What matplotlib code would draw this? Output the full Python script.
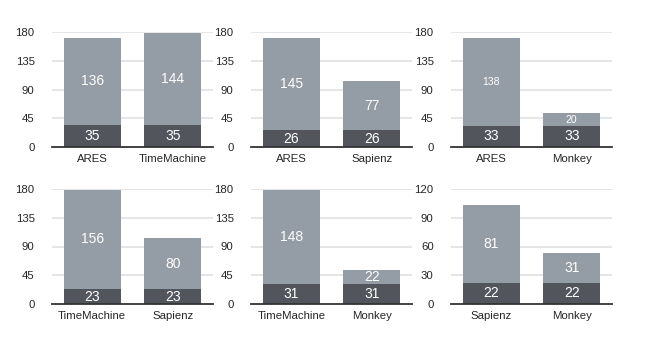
import matplotlib
matplotlib.use("Agg")
import matplotlib.pyplot as plt

plt.rcParams['font.family'] = ['Liberation Sans', 'DejaVu Sans']

# Data: each panel = (categories, bottom values, top values, y ticks)
panel_categories = [
    ["ARES", "TimeMachine"],
    ["ARES", "Sapienz"],
    ["ARES", "Monkey"],
    ["TimeMachine", "Sapienz"],
    ["TimeMachine", "Monkey"],
    ["Sapienz", "Monkey"],
]
bottom_values = [
    [35, 35],
    [26, 26],
    [33, 33],
    [23, 23],
    [31, 31],
    [22, 22],
]
top_values = [
    [136, 144],
    [145, 77],
    [138, 20],
    [156, 80],
    [148, 22],
    [81, 31],
]
y_ticks = [
    [0, 45, 90, 135, 180],
    [0, 45, 90, 135, 180],
    [0, 45, 90, 135, 180],
    [0, 45, 90, 135, 180],
    [0, 45, 90, 135, 180],
    [0, 30, 60, 90, 120],
]
# labels drawn small in the original
small_labels = {(2, 0), (2, 1)}

TOP_COLOR = "#949ca5"
BOTTOM_COLOR = "#52565c"
GRID_COLOR = "#e2e2e2"

W, H = 665, 362
fig = plt.figure(figsize=(W / 100, H / 100), dpi=100)

col_x = [52, 251, 451]
row_y = [(32, 147), (189, 304)]
ax_w = 161

for i in range(6):
    r, c = divmod(i, 3)
    top_px, bot_px = row_y[r]
    ax = fig.add_axes([col_x[c] / W, 1 - bot_px / H, ax_w / W, (bot_px - top_px) / H])
    cats = panel_categories[i]
    x = list(range(len(cats)))
    b = bottom_values[i]
    t = top_values[i]
    ax.bar(x, b, width=0.71, color=BOTTOM_COLOR, zorder=3)
    ax.bar(x, t, bottom=b, width=0.71, color=TOP_COLOR, zorder=3)
    ticks = y_ticks[i]
    ax.set_ylim(0, ticks[-1])
    ax.set_xlim(-0.5, len(cats) - 0.5)
    ax.set_yticks(ticks)
    ax.set_yticklabels([str(v) for v in ticks], fontsize=8.2, color="#262626")
    ax.set_xticks(x)
    ax.set_xticklabels(cats, fontsize=8.2, color="#262626")
    ax.tick_params(axis="y", length=0, pad=12.5)
    ax.tick_params(axis="x", length=0, pad=5)
    for v in ticks[1:]:
        ax.axhline(v, color=GRID_COLOR, lw=1.2, zorder=1)
    for s in ["top", "right", "left"]:
        ax.spines[s].set_visible(False)
    ax.spines["bottom"].set_color("#333333")
    ax.spines["bottom"].set_linewidth(1.3)
    ax.spines["bottom"].set_zorder(4)
    for j in x:
        ax.text(j, b[j] / 2, str(b[j]), ha="center", va="center",
                color="white", fontsize=10, zorder=5)
        fs = 7.5 if (i, j) in small_labels else 10
        ax.text(j, b[j] + t[j] / 2, str(t[j]), ha="center", va="center",
                color="white", fontsize=fs, zorder=5)

fig.savefig("out.png", dpi=100, facecolor="white")
